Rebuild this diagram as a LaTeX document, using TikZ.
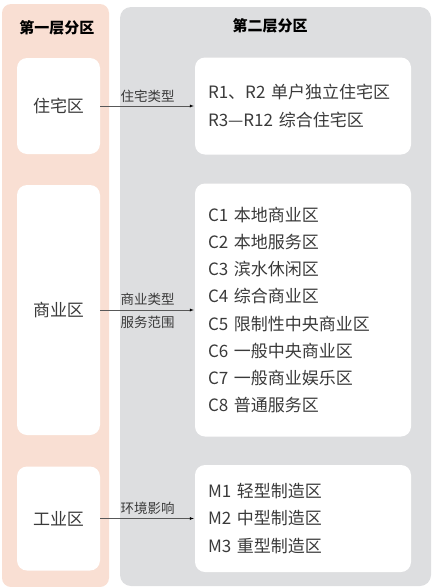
\documentclass[tikz,border=0pt]{standalone}
\usepackage{fontspec}
\setmainfont{Noto Sans CJK SC}
\usepackage{tikz}
\usetikzlibrary{positioning}
\usetikzlibrary{arrows}

\definecolor{peach}{HTML}{F9DFD3}
\definecolor{panelgrey}{HTML}{DDDEE0}
\definecolor{inkgrey}{HTML}{3A3A3A}

\begin{document}
\begin{tikzpicture}[x=1pt,y=-1pt,>=latex,node distance=244.5pt,
	zone node/.style={fill=white,rounded corners=10pt,minimum width=83pt,
		text=inkgrey,font=\fontsize{17}{20}\selectfont},
	type node/.style={fill=white,rounded corners=10pt,minimum width=216pt,
		align=left,text width=190pt,inner xsep=13pt,text=inkgrey,
		font=\fontsize{17}{27.2}\selectfont},
	title node/.style={font=\bfseries\fontsize{15}{18}\selectfont,text=black}]
	
	\useasboundingbox (0,0) rectangle (432,587);
	\fill[peach,rounded corners=9pt] (2,4) rectangle (109,587);
	\fill[panelgrey,rounded corners=11pt] (120,7) rectangle (431,586);
	
	\node[title node] (t1) at (57,28) {第一层分区};
	\node[title node] (t2) at (270,26) {第二层分区};
	
	\node[zone node,minimum height=96pt] (res) at (58.5,106) {住宅区};
	\node[zone node,minimum height=250pt] (com) at (58.5,310) {商业区};
	\node[zone node,minimum height=104pt] (ind) at (58.5,518.5) {工业区};
	
	\node[type node,minimum height=97pt] (resT) [right of=res]
		{R1、R2 单户独立住宅区\\R3—R12 综合住宅区};
	\node[type node,minimum height=253pt] (comT) [right of=com]
		{C1 本地商业区\\C2 本地服务区\\C3 滨水休闲区\\C4 综合商业区\\
		 C5 限制性中央商业区\\C6 一般中央商业区\\C7 一般商业娱乐区\\C8 普通服务区};
	\node[type node,minimum height=107pt] (indT) [right of=ind]
		{M1 轻型制造区\\M2 中型制造区\\M3 重型制造区};
	
	\path[->,draw=inkgrey!85,shorten >=1pt,
		every node/.style={font=\fontsize{13.5}{16}\selectfont,text=inkgrey}]
	(res) edge node [above] {住宅类型} (resT)
	(com) edge node [above=1pt] {商业类型} node [below=3pt] {服务范围} (comT)
	(ind) edge node [above] {环境影响} (indT);
\end{tikzpicture}
\end{document}
